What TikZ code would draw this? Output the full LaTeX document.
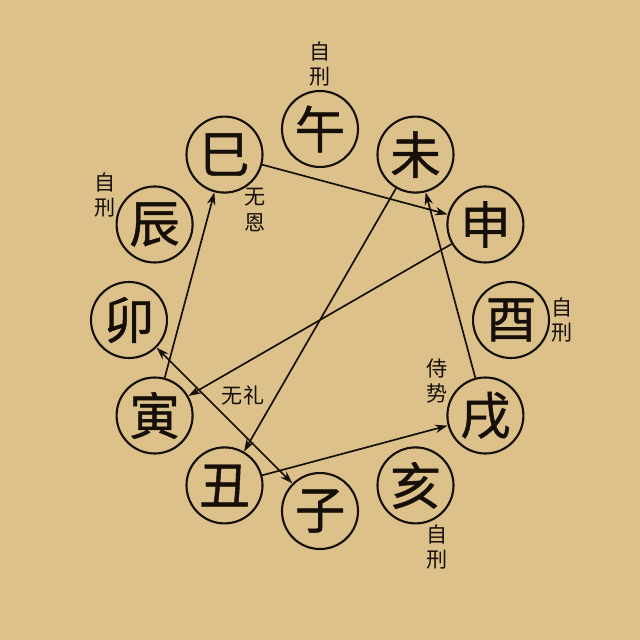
\documentclass[tikz,border=0pt]{standalone}
\usepackage{fontspec}
\setmainfont{Noto Sans CJK SC}
\newfontfamily\branchfont[FakeBold=0.8]{Noto Sans CJK SC}
\usetikzlibrary{arrows.meta, positioning}

\definecolor{paper}{RGB}{220,193,138}
\definecolor{ink}{RGB}{22,15,8}

\begin{document}
\begin{tikzpicture}[
  branch/.style={circle, draw=ink, line width=1.5pt, minimum size=1.9cm, inner sep=0pt,
    text=ink, font=\branchfont\fontsize{36}{36}\selectfont},
  note/.style={align=center, text=ink, font=\fontsize{15}{18}\selectfont},
  rel/.style={draw=ink, line width=1.2pt, -{Stealth[length=9pt, width=6pt]}},
  both/.style={rel, {Stealth[length=9pt, width=6pt]}-{Stealth[length=9pt, width=6pt]}}
]
  \fill[paper] (-8, -8) rectangle (8, 8) ;

  % the twelve branches
  \node[branch] (wu) at (90:4.775) {午} ;
  \node[branch] (wei) at (60:4.775) {未} ;
  \node[branch] (shen) at (30:4.775) {申} ;
  \node[branch] (you) at (0:4.775) {酉} ;
  \node[branch] (xu) at (-30:4.775) {戌} ;
  \node[branch] (hai) at (-60:4.775) {亥} ;
  \node[branch] (zi) at (-90:4.775) {子} ;
  \node[branch] (chou) at (-120:4.775) {丑} ;
  \node[branch] (yin) at (-150:4.775) {寅} ;
  \node[branch] (mao) at (180:4.775) {卯} ;
  \node[branch] (chen) at (150:4.775) {辰} ;
  \node[branch] (si) at (120:4.775) {巳} ;

  \node[note] (wuSelf) at (0, 6.4) {自\\刑} ;
  \node[note] (chenSelf) at (-5.375, 3.125) {自\\刑} ;
  \node[note] (youSelf) at (6.05, 0) {自\\刑} ;
  \node[note] (haiSelf) at (2.925, -5.675) {自\\刑} ;
  \node[note] (wuEn) at (-1.625, 2.75) {无\\恩} ;
  \node[note] (shiShi) at (2.925, -1.525) {侍\\势} ;
  \node[note] (wuLi) at (-1.925, -1.875) {无礼} ;

  \draw[rel] (si) -- (shen) ;
  \draw[rel] (shen) -- (yin) ;
  \draw[rel] (yin) -- (si) ;
  \draw[rel] (chou) -- (xu) ;
  \draw[rel] (xu) -- (wei) ;
  \draw[rel] (wei) -- (chou) ;
  \draw[both] (mao) -- (zi) ;

\end{tikzpicture}
\end{document}
